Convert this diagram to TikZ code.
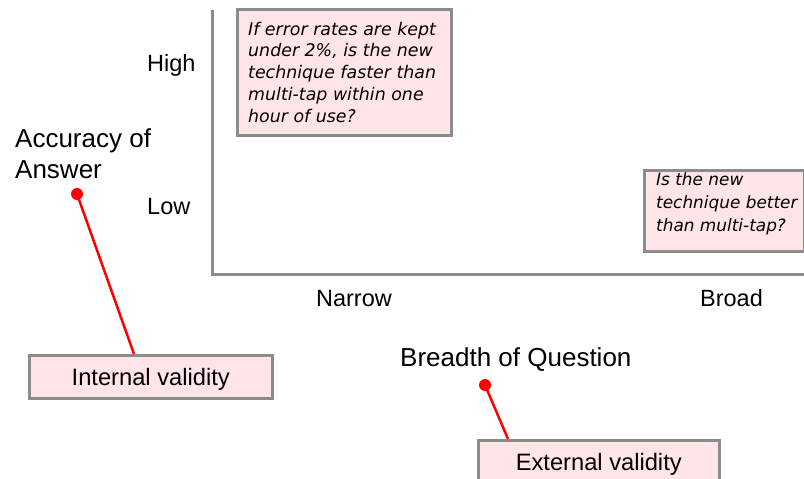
\documentclass[tikz,border=0pt]{standalone}
\usepackage{fontspec}
\setmainfont{Liberation Sans}
\newfontfamily\qfont{DejaVu Sans}
\definecolor{boxpink}{RGB}{255,228,232}
\definecolor{rulegray}{RGB}{140,140,140}
\begin{document}
\begin{tikzpicture}[x=1pt,y=-1pt,
  axisline/.style={draw=rulegray,line width=3pt},
  pinkbox/.style={draw=rulegray,fill=boxpink,line width=2.5pt,inner sep=0pt,anchor=north west},
  labelbox/.style={pinkbox,font=\fontsize{23.7}{28}\selectfont,text height=17pt,text depth=0pt},
  ticklabel/.style={font=\fontsize{23.5}{28}\selectfont,inner sep=0pt,text height=16.8pt,text depth=0pt},
  axistitle/.style={font=\fontsize{26}{31.5}\selectfont,inner sep=0pt,align=left},
  qtext/.style={font=\qfont\itshape\fontsize{17.4}{21.7}\selectfont,inner sep=0pt,align=left,anchor=north west},
  pinline/.style={draw=red,line width=2.5pt},
  pindot/.style={circle,fill=red,inner sep=0pt,minimum size=12pt}]
\useasboundingbox (0,0) rectangle (804,479);
\clip (0,0) rectangle (804,479);

% axes
\coordinate (ytop) at (212,10);
\coordinate (origin) at (212,274);
\coordinate (xend) at (808,274);
\draw[axisline] (ytop) -- (origin) -- (xend);

% tick labels
\node[ticklabel,anchor=west] (high) at (147,63.5) {High};
\node[ticklabel,anchor=west] (low) at (147,206.5) {Low};
\node[ticklabel] (narrow) at (354,298.5) {Narrow};
\node[ticklabel] (broad) at (731.5,298.5) {Broad};

% axis titles
\node[axistitle,anchor=north west] (accuracy) at (15,128) {Accuracy of\\Answer};
\node[axistitle,anchor=west,text height=18.6pt,text depth=0pt] (breadth) at (400,357.5) {Breadth of Question};

% question boxes
\node[pinkbox,minimum width=214pt,minimum height=126pt] (q1) at (236,8) {};
\node[qtext] (q1text) at (248,21.8) {If error rates are kept\\under 2\%, is the new\\technique faster than\\multi-tap within one\\hour of use?};
\node[pinkbox,minimum width=160pt,minimum height=81pt] (q2) at (643,169) {};
\node[qtext,font=\qfont\itshape\fontsize{16.9}{23.3}\selectfont] (q2text) at (656,172.2) {Is the new\\technique better\\than multi-tap?};

% validity callouts
\node[labelbox,minimum width=243pt,minimum height=43pt] (ibox) at (28,354) {Internal validity};
\node[labelbox,minimum width=241pt,minimum height=43pt] (ebox) at (477,439) {External validity};
\node[pindot] (adot) at (77,194) {};
\node[pindot] (bdot) at (485,385) {};
\coordinate (itip) at (134,354);
\coordinate (etip) at (508,439);
\draw[pinline] (adot.center) -- (itip);
\draw[pinline] (bdot.center) -- (etip);
\end{tikzpicture}
\end{document}
